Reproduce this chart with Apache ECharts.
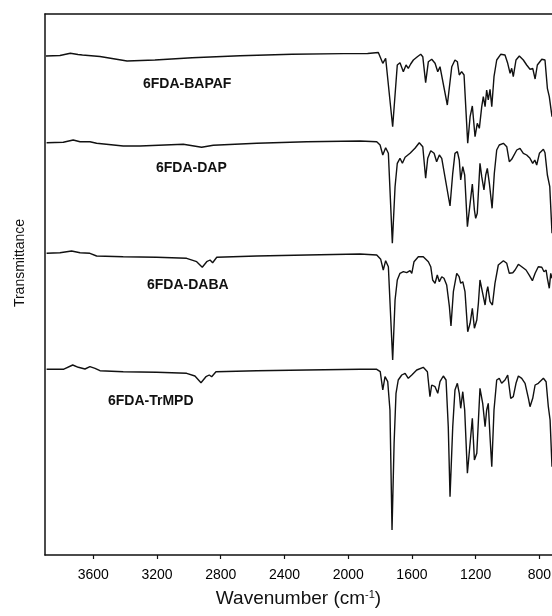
<!DOCTYPE html>
<html>
<head>
<meta charset="utf-8">
<script src="https://cdn.jsdelivr.net/npm/echarts@6/dist/echarts.min.js"></script>
<style>html,body{margin:0;padding:0;background:#fff}#c{width:552px;height:616px}</style>
</head>
<body>
<div id="c"></div>
<script>
// Tick labels (wavenumber, cm-1)
const tickValues = [3600, 3200, 2800, 2400, 2000, 1600, 1200, 800];

// Series names
const seriesNames = ['6FDA-BAPAF', '6FDA-DAP', '6FDA-DABA', '6FDA-TrMPD'];

// 6FDA-BAPAF (offset transmittance, a.u.)
const bapafWn = [3897,3809,3744,3696,3668,3558,3388,3213,2980,2679,2353,2029,1878,1811,1783,1765,1721,1692,1675,1654,1637,1623,1608,1591,1566,1545,1532,1514,1497,1476,1455,1438,1424,1413,1378,1350,1330,1315,1303,1288,1273,1250,1235,1221,1204,1190,1177,1162,1152,1141,1131,1121,1110,1099,1085,1068,1043,1016,999,984,974,964,947,926,901,880,859,842,827,813,785,765,750,738,721];
const bapafT = [499,499.5,501.7,500.5,500,498.5,494,495,497.3,499.3,500.7,501.4,501.5,502.5,491.7,496.7,428.3,490,492.3,483.3,490,486.7,491,495,498.3,500.7,498.3,472.3,493.3,495.7,491.7,483.3,488.3,486.7,450,488.3,495,493.3,480,483.3,480,411.7,438.3,449,418.3,431.7,426.7,448.3,458.3,448.3,465,455,465.7,448.3,478.3,495,500.7,500,491.7,481.7,486.7,478.3,495,499,495,490,485.7,486.7,476,490,495.7,495,466.7,458.3,438.3];

// 6FDA-DAP
const dapWn = [3893,3788,3726,3683,3621,3579,3412,3307,3035,2920,2847,2574,2260,1926,1821,1800,1783,1765,1748,1723,1706,1692,1675,1660,1643,1612,1581,1554,1532,1514,1501,1482,1461,1445,1428,1413,1361,1344,1330,1315,1303,1294,1281,1269,1252,1235,1221,1208,1200,1190,1173,1162,1148,1137,1127,1114,1097,1083,1068,1052,1026,1005,989,974,964,942,922,901,880,859,842,829,817,800,775,765,750,735,721];
const dapT = [412.3,412.7,415,413.3,413.3,411.7,409,409,410.7,407.7,409.7,411.7,413.3,414,413.3,410,400,407.3,401.7,311.7,368.3,391.7,396.7,391.7,397.7,401.7,406.7,412.3,408.3,376.7,396.7,404.3,401.7,393.3,400,396.7,349,381.7,401.7,403.3,395,375,388.3,380,328.3,351.7,371,345,336.7,341.7,391.7,378.3,365,380,386.7,371.7,346.7,381.7,405,410,411.7,408.3,393.3,395.7,395,405,406.7,401.7,400,396.7,391.7,395,390,401.7,405.7,402.3,380,368.3,321.7];

// 6FDA-DABA
const dabaWn = [3893,3809,3736,3683,3621,3579,3412,3202,3014,2951,2916,2888,2867,2851,2825,2574,2260,1926,1821,1796,1780,1765,1748,1721,1706,1692,1675,1654,1633,1612,1601,1587,1560,1529,1497,1482,1470,1455,1441,1428,1413,1399,1382,1365,1355,1340,1319,1304,1294,1281,1267,1250,1235,1221,1208,1193,1183,1173,1156,1141,1131,1124,1110,1095,1079,1058,1026,1005,989,967,953,932,911,884,863,844,827,807,785,771,758,750,738,729,721];
const dabaT = [301.7,302.3,304,302.3,301.7,299,298.3,297.7,296.7,293.3,287.7,293.3,295,292.3,297.7,299,300,301,300,295.7,285,294.3,288.3,195,255,275,281.7,283.3,282.3,284.3,281.7,293.3,298.3,298.3,293.3,288.3,275,271.7,280,273.3,278.3,276.7,270,248.3,229,263.3,281.7,278.3,271.7,273.3,263.3,223.3,231.7,246.7,226.7,235,251.7,275,261.7,250,263.3,268.3,253.3,250,271.7,290,294.3,291.7,281.7,282.3,285,290.7,288.3,285,279.7,274.3,281.7,288.3,287.7,283.3,285,276.7,266.7,281.7,276.7];

// 6FDA-TrMPD
const trmpdWn = [3893,3788,3729,3694,3652,3621,3589,3558,3412,3202,3014,2962,2924,2893,2872,2857,2830,2574,2260,1926,1821,1799,1783,1769,1752,1738,1725,1712,1700,1686,1664,1643,1623,1601,1570,1529,1503,1487,1476,1455,1438,1424,1403,1386,1372,1361,1344,1330,1315,1303,1294,1281,1269,1252,1235,1221,1208,1193,1173,1156,1141,1131,1121,1110,1099,1085,1068,1052,1037,1016,999,980,964,947,932,911,890,869,859,842,827,807,775,758,744,733,721];
const trmpdT = [185.7,185.7,190,187.7,186,188.3,186.7,184.3,183.3,182.7,181.7,179,172.3,178.3,180,178.3,183.3,184.3,185,185.7,185.7,183.3,165,178.3,173.3,145,25,111.7,161.7,175,180,181.7,176.7,180,185,187.7,183.3,158.3,170,168.3,161.7,173.3,179,175,128.3,58.3,128.3,165,171.7,161.7,146.7,163.3,145,81.7,111.7,136.7,95,101.7,166.7,151.7,128.3,145,151.7,118.3,88.3,145,175,176.7,171.7,175,180,156.7,158.3,171.7,179,176.7,171.7,156.7,148.3,156.7,170,171.7,176.7,173.3,148.3,135,88.3];

const xMin = 721, xMax = 3903;
const yMin = 0, yMax = 541;

function zip(a, b) {
  const n = Math.min(a.length, b.length);
  const out = [];
  for (let i = 0; i < n; i++) out.push([a[i], b[i]]);
  return out;
}

const allData = [zip(bapafWn, bapafT), zip(dapWn, dapT), zip(dabaWn, dabaT), zip(trmpdWn, trmpdT)];

const chart = echarts.init(document.getElementById('c'), null, {renderer: 'canvas'});
const FONT = 'Liberation Sans, Arial, sans-serif';
const axisLineStyle = {color: '#111', width: 1.5};

const option = {
  backgroundColor: '#fff',
  animation: false,
  grid: {left: 45, right: 0, top: 14, bottom: 61, containLabel: false, outerBoundsMode: 'none'},
  xAxis: [{
    type: 'value', inverse: true, min: xMin, max: xMax, position: 'bottom',
    splitLine: {show: false},
    axisLine: {show: true, onZero: false, lineStyle: axisLineStyle},
    axisTick: {show: true, inside: false, length: 4, customValues: tickValues, lineStyle: {color: '#111', width: 1.2}},
    axisLabel: {show: true, customValues: tickValues, formatter: v => String(v), fontFamily: FONT, fontSize: 14, color: '#000', margin: 13},
    name: 'Wavenumber (cm{s|-1})', nameLocation: 'middle', nameGap: 34,
    nameTextStyle: {fontFamily: FONT, fontSize: 19, color: '#111',
      rich: {s: {fontFamily: FONT, fontSize: 11, color: '#111', verticalAlign: 'top', padding: [0, 0, 9, 0]}}}
  }, {
    type: 'value', inverse: true, min: xMin, max: xMax, position: 'top',
    splitLine: {show: false},
    axisLine: {show: true, onZero: false, lineStyle: axisLineStyle},
    axisTick: {show: false}, axisLabel: {show: false}
  }],
  yAxis: {
    type: 'value', min: yMin, max: yMax,
    splitLine: {show: false},
    axisLine: {show: true, onZero: false, lineStyle: axisLineStyle},
    axisTick: {show: false}, axisLabel: {show: false}
  },
  series: allData.map((d, i) => ({
    name: seriesNames[i], type: 'line', data: d, showSymbol: false, symbol: 'none',
    lineStyle: {color: '#111', width: 1.4}, clip: true, smooth: false
  })),
  graphic: [
    {type: 'text', x: 20, y: 263, rotation: Math.PI / 2,
      style: {text: 'Transmittance', font: '14px ' + FONT, fill: '#111', align: 'center', verticalAlign: 'middle'}},
    {type: 'text', left: 143, top: 77, style: {text: seriesNames[0], font: 'bold 14px ' + FONT, fill: '#111'}},
    {type: 'text', left: 156, top: 161, style: {text: seriesNames[1], font: 'bold 14px ' + FONT, fill: '#111'}},
    {type: 'text', left: 147, top: 278, style: {text: seriesNames[2], font: 'bold 14px ' + FONT, fill: '#111'}},
    {type: 'text', left: 108, top: 394, style: {text: seriesNames[3], font: 'bold 14px ' + FONT, fill: '#111'}}
  ]
};
chart.setOption(option);
</script>
</body>
</html>
